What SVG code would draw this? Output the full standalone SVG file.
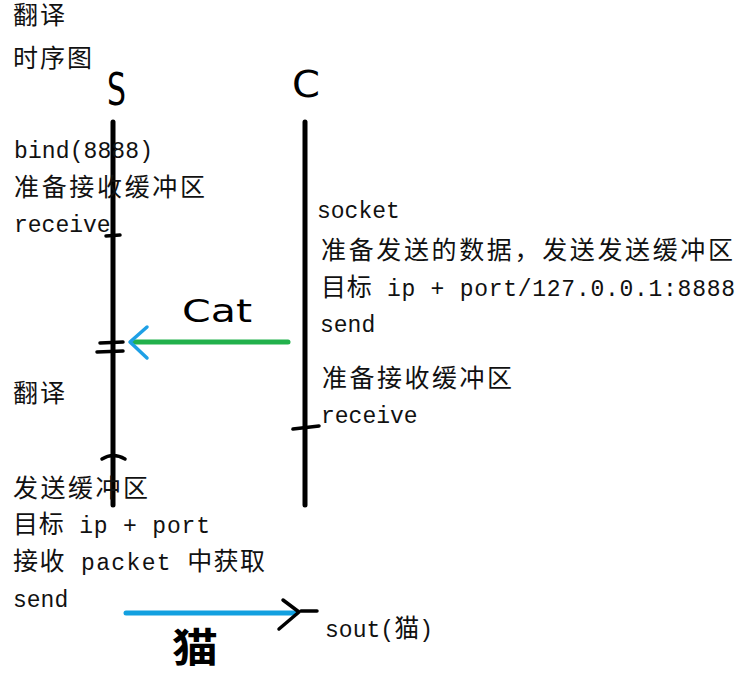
<svg xmlns="http://www.w3.org/2000/svg" width="746" height="678" viewBox="0 0 746 678">
<style>
.t{font-family:"Liberation Mono","Noto Sans CJK SC",monospace;font-size:23px;fill:#111}
.c{font-size:25px}
.h{font-family:"DejaVu Sans","Noto Sans CJK SC",sans-serif;fill:#000}
.life{stroke:#000;stroke-width:5;stroke-linecap:round;fill:none}
.tick{stroke:#000;stroke-width:3.5;stroke-linecap:round;fill:none}
</style>
<rect width="746" height="678" fill="#fff"/>
<g id="notes-top">
<text class="t c" x="13" y="24" textLength="52" lengthAdjust="spacing">翻译</text>
<text class="t c" x="13" y="67" textLength="79" lengthAdjust="spacing">时序图</text>
</g>
<g id="node-S">
<text class="h" x="107" y="105" font-size="44" textLength="19" lengthAdjust="spacingAndGlyphs">S</text>
<line class="life" x1="113" y1="122" x2="113" y2="505"/>
<path class="tick" d="M106 236 L120 235"/>
<path class="tick" d="M100 343 L123 342"/>
<path class="tick" d="M97 352 L123 351"/>
<path class="tick" d="M102 459 Q113 452 125 459"/>
</g>
<g id="node-C">
<text class="h" x="292" y="97" font-size="37" textLength="28" lengthAdjust="spacingAndGlyphs">C</text>
<line class="life" x1="305" y1="122" x2="305" y2="505"/>
<path class="tick" d="M293 429 L319 426"/>
</g>
<g id="notes-S">
<text class="t" x="14" y="158" textLength="139" lengthAdjust="spacing">bind(8888)</text>
<text class="t c" x="14" y="196" textLength="191" lengthAdjust="spacing">准备接收缓冲区</text>
<text class="t" x="14" y="232">receive</text>
<text class="t c" x="13" y="402" textLength="52" lengthAdjust="spacing">翻译</text>
<text class="t c" x="13" y="497" textLength="135" lengthAdjust="spacing">发送缓冲区</text>
<text class="t" x="13" y="533" textLength="197" lengthAdjust="spacing"><tspan class="c">目标</tspan> ip + port</text>
<text class="t" x="13" y="570" textLength="252" lengthAdjust="spacing"><tspan class="c">接收</tspan> packet <tspan class="c">中获取</tspan></text>
<text class="t" x="13" y="607">send</text>
</g>
<g id="notes-C">
<text class="t" x="317" y="218">socket</text>
<text class="t c" x="321" y="259" textLength="412" lengthAdjust="spacing">准备发送的数据，发送发送缓冲区</text>
<text class="t" x="321" y="296" textLength="414" lengthAdjust="spacing"><tspan class="c">目标</tspan> ip + port/127.0.0.1:8888</text>
<text class="t" x="320" y="332">send</text>
<text class="t c" x="322" y="387" textLength="190" lengthAdjust="spacing">准备接收缓冲区</text>
<text class="t" x="321" y="423">receive</text>
</g>
<g id="node-sout">
<text class="t" x="325" y="637" textLength="108" lengthAdjust="spacing">sout(<tspan class="c">猫</tspan>)</text>
</g>
<g id="connectors">
<g id="msg-cat">
<line x1="288" y1="342" x2="132" y2="342" stroke="#22b14c" stroke-width="5" stroke-linecap="round"/>
<polyline points="147,327 130,342 147,358" fill="none" stroke="#1ea0e6" stroke-width="3.5" stroke-linecap="round" stroke-linejoin="round"/>
<text class="h" x="182" y="322" font-size="32" textLength="70" lengthAdjust="spacingAndGlyphs">Cat</text>
</g>
<g id="msg-mao">
<line x1="126" y1="613" x2="296" y2="613" stroke="#12a0e0" stroke-width="5" stroke-linecap="round"/>
<polyline points="283,600 299,612 279,629" fill="none" stroke="#000" stroke-width="3.5" stroke-linecap="round" stroke-linejoin="round"/>
<line x1="301" y1="611" x2="317" y2="611" stroke="#000" stroke-width="3.5" stroke-linecap="round"/>
<text class="h" x="172" y="662" font-size="40" font-weight="bold" textLength="46" lengthAdjust="spacingAndGlyphs">猫</text>
</g>
</g>
</svg>
